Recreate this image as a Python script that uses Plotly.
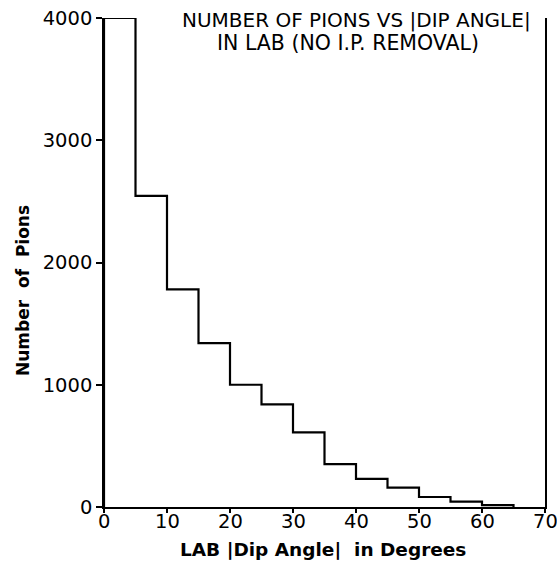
import plotly.graph_objects as go

# Histogram of pion counts in 5-degree bins of |dip angle| (lab frame)
bin_edges = [0, 5, 10, 15, 20, 25, 30, 35, 40, 45, 50, 55, 60, 65]
pion_counts = [4000, 2545, 1780, 1340, 1000, 840, 610, 350, 230, 158, 82, 44, 15]

x_ticks = [0, 10, 20, 30, 40, 50, 60, 70]
y_ticks = [0, 1000, 2000, 3000, 4000]

# step outline: rise at the first edge, drop at the last edge
step_x = [bin_edges[0]] + bin_edges
step_y = [0] + pion_counts + [0]

W, H = 557, 562
ML, MR, MT, MB = 104, 12, 18, 55

fig = go.Figure()
fig.add_trace(go.Scatter(
    x=step_x, y=step_y, mode="lines", line_shape="hv",
    line=dict(color="black", width=2.2), cliponaxis=False, hoverinfo="skip",
))

fig.update_layout(
    width=W, height=H,
    margin=dict(l=ML, r=MR, t=MT, b=MB, autoexpand=False),
    paper_bgcolor="white", plot_bgcolor="white",
    showlegend=False,
    xaxis=dict(
        range=[0, 70], tickvals=x_ticks, showticklabels=False,
        showgrid=False, zeroline=False, showline=True, linecolor="black",
        linewidth=1.5, mirror=False, ticks="outside", ticklen=4, tickwidth=1.5,
        tickcolor="black", automargin=False,
    ),
    yaxis=dict(
        range=[0, 4000], tickvals=y_ticks, ticktext=[str(v) for v in y_ticks],
        showgrid=False, zeroline=False, showline=True, linecolor="black",
        linewidth=1.5, mirror=True, ticks="outside", ticklen=6, tickwidth=1.5,
        tickcolor="black", automargin=False, ticklabeloverflow="allow",
        tickfont=dict(family="DejaVu Sans", size=19.5, color="black"),
    ),
)

# x tick labels sit tight under the axis line
for v in x_ticks:
    fig.add_annotation(
        text=str(v), x=v, xref="x", y=-14 / (H - MT - MB), yref="paper",
        xanchor="center", yanchor="middle", showarrow=False,
        font=dict(family="DejaVu Sans", size=19.5, color="black"),
    )


def px_label(text, x_px, y_px, size, angle=0):
    """Place a text centred on a pixel position measured from the top-left."""
    fig.add_annotation(
        text=text, showarrow=False, textangle=angle,
        xref="paper", yref="paper", xanchor="center", yanchor="middle",
        x=(x_px - ML) / (W - ML - MR),
        y=((H - y_px) - MB) / (H - MT - MB),
        font=dict(family="DejaVu Sans", size=size, color="black"),
    )


px_label("NUMBER OF PIONS VS |DIP ANGLE|", 356, 20, 20)
px_label("IN LAB (NO I.P. REMOVAL)", 348, 43, 20.5)
px_label("<b>LAB |Dip Angle|  in Degrees</b>", 323, 549, 18.5)
px_label("<b>Number  of  Pions</b>", 23, 291, 17, angle=-90)

fig.write_html("out.html")
